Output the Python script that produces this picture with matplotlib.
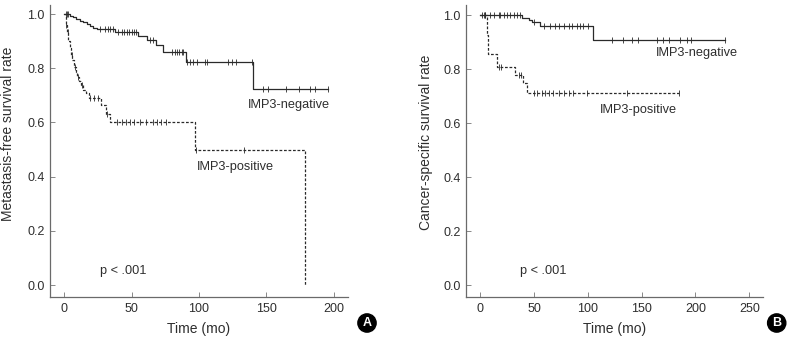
import numpy as np
import matplotlib
matplotlib.use('Agg')
import matplotlib.pyplot as plt

plt.rcParams['font.family'] = ['Liberation Sans', 'DejaVu Sans']

# Panel A - metastasis-free survival (step times / survival after step)
a_neg_t = [0, 4, 6.5, 9, 11.5, 14, 16.5, 19, 21.5, 24, 37.5, 54.5, 61.5, 68, 73.5, 90, 140, 196]
a_neg_s = [1.0, 0.993, 0.988, 0.982, 0.976, 0.970, 0.963, 0.957, 0.950, 0.945, 0.932, 0.920, 0.904,
           0.886, 0.859, 0.824, 0.722, 0.722]
a_neg_cens = [1, 2, 3, 26.5, 30, 32.7, 34, 36.4, 40, 42.6, 44.3, 46.3, 48.3, 50, 51.7, 53.2,
              63.6, 66, 79.7, 82.2, 83.9, 85.4, 87.2, 88.3, 91.3, 93.3, 95.3, 98.3, 104.5, 106.2,
              121.7, 124.3, 127.5, 139, 147.7, 151.5, 164.6, 174.5, 182.4, 186, 196]

a_pos_t = [0, 1, 2, 3, 4, 5, 6, 7, 8.5, 9.5, 11, 12.5, 14, 16, 18, 27, 31, 34, 97, 179]
a_pos_s = [1.0, 0.96, 0.935, 0.90, 0.873, 0.85, 0.83, 0.806, 0.785, 0.769, 0.752, 0.738, 0.72,
           0.708, 0.689, 0.664, 0.633, 0.60, 0.50, 0.0]
a_pos_cens = [1.5, 2.5, 5.5, 8, 10.4, 12.9, 19, 22, 25, 32, 39, 43, 46, 49, 52, 56, 61, 66, 69,
              72, 75.5, 97.5, 133.4]

# Panel B - cancer-specific survival
b_neg_t = [0, 38.5, 45, 48, 55.5, 104.5, 227.5]
b_neg_s = [1.0, 0.989, 0.983, 0.976, 0.962, 0.908, 0.908]
b_neg_cens = [1.5, 4.6, 9.3, 12.4, 17, 18.6, 21.7, 24.8, 27.9, 31, 34, 37, 50, 58.8, 65, 69.6,
              72.7, 77.4, 82, 85, 89.8, 92.6, 95.7, 100.5, 122, 133, 141, 147, 164, 170, 175,
              186, 192, 196, 227.5]

b_pos_t = [0, 6.5, 7, 15.5, 32.5, 40, 43.5, 185]
b_pos_s = [1.0, 0.929, 0.857, 0.81, 0.779, 0.748, 0.711, 0.711]
b_pos_cens = [3, 4, 17, 19, 36, 38, 49.5, 52.6, 57.3, 60.4, 63.4, 68, 72.7, 77.4, 82, 86.6, 99,
              136, 185]

ink = '#2a2a2a'
grey = '#6a6a6a'
txt = '#2e2e2e'


def km(ax, t, s, cens, ls):
    t = np.asarray(t)
    s = np.asarray(s)
    if ls == '--':
        ax.step(t, s, where='post', color=ink, lw=0.9, ls='--', dashes=(2.2, 1.4))
    else:
        ax.step(t, s, where='post', color=ink, lw=0.9)
    c = np.asarray(cens)
    idx = np.searchsorted(t, c, side='right') - 1
    ax.plot(c, s[idx], ls='none', marker='|', ms=3.8, mew=0.6, color=ink)


def style(ax, xticks, xlim, ylim, ylabel, ylab_x, ylab_y):
    ax.set_xlim(xlim)
    ax.set_ylim(ylim)
    ax.set_xticks(xticks)
    ax.set_yticks(np.arange(0, 1.01, 0.2))
    ax.set_yticklabels(['%.1f' % v for v in np.arange(0, 1.01, 0.2)])
    for sp in ['top', 'right']:
        ax.spines[sp].set_visible(False)
    for sp in ['left', 'bottom']:
        ax.spines[sp].set_color(grey)
        ax.spines[sp].set_linewidth(0.9)
    ax.tick_params(direction='in', length=3.5, width=0.7, color='#888888', labelsize=9,
                   labelcolor=txt, pad=4)
    ax.set_xlabel('Time (mo)', fontsize=10, color=txt)
    ax.xaxis.set_label_coords(0.5, -0.085)
    ax.set_ylabel(ylabel, fontsize=10, color=txt)
    ax.yaxis.set_label_coords(ylab_x, ylab_y)


fig = plt.figure(figsize=(7.89, 3.39), dpi=100)
axA = fig.add_axes([0.0634, 0.1239, 0.3777, 0.861])
axB = fig.add_axes([0.5906, 0.1239, 0.3768, 0.861])

km(axA, a_neg_t, a_neg_s, a_neg_cens, '-')
km(axA, a_pos_t, a_pos_s, a_pos_cens, '--')
style(axA, [0, 50, 100, 150, 200], (-10.6, 210.6), (-0.044, 1.033),
      'Metastasis-free survival rate', -0.118, 0.56)
axA.text(167, 0.664, 'IMP3-negative', ha='center', va='center', fontsize=9.2, color=txt)
axA.text(126.7, 0.435, 'IMP3-positive', ha='center', va='center', fontsize=9.2, color=txt)
axA.text(43.6, 0.052, 'p < .001', ha='center', va='center', fontsize=9.2, color=txt)

km(axB, b_neg_t, b_neg_s, b_neg_cens, '-')
km(axB, b_pos_t, b_pos_s, b_pos_cens, '--')
style(axB, [0, 50, 100, 150, 200, 250], (-13.3, 263), (-0.044, 1.038),
      'Cancer-specific survival rate', -0.11, 0.53)
axB.text(201.5, 0.861, 'IMP3-negative', ha='center', va='center', fontsize=9.2, color=txt)
axB.text(146.7, 0.649, 'IMP3-positive', ha='center', va='center', fontsize=9.2, color=txt)
axB.text(58.5, 0.053, 'p < .001', ha='center', va='center', fontsize=9.2, color=txt)

# panel badges
for x, lab in [(367 / 789, 'A'), (776.7 / 789, 'B')]:
    fig.text(x, 1 - 323 / 339, lab, ha='center', va='center', fontsize=9, fontweight='bold',
             color='white', bbox=dict(boxstyle='circle,pad=0.25', fc='black', ec='black'))

fig.savefig('out.png', dpi=100)
